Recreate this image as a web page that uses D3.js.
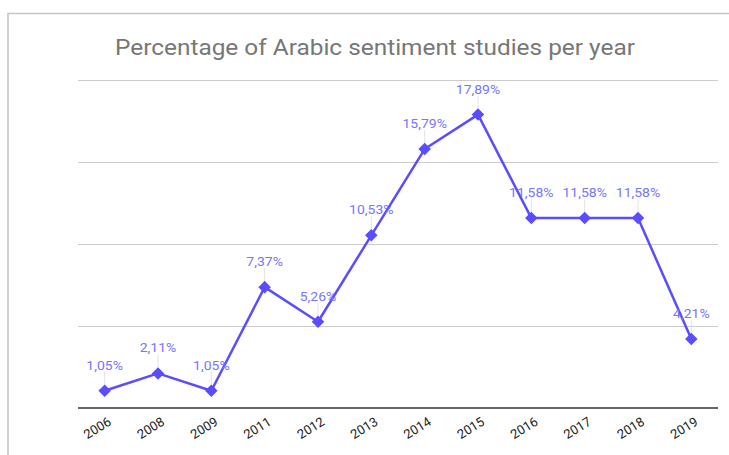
<!DOCTYPE html>
<html>
<head>
<meta charset="utf-8">
<script src="https://cdn.jsdelivr.net/npm/d3@7/dist/d3.min.js"></script>
<style>
  html, body { margin: 0; padding: 0; background: #fff; }
  svg { display: block; font-family: Roboto, "Noto Sans", Arial, sans-serif; }
</style>
</head>
<body>
<svg id="chart" width="729" height="455"></svg>
<script>
const years = ["2006","2008","2009","2011","2012","2013","2014","2015","2016","2017","2018","2019"];
const percentages = [1.05, 2.11, 1.05, 7.37, 5.26, 10.53, 15.79, 17.89, 11.58, 11.58, 11.58, 4.21];
const yTicks = [0, 5, 10, 15, 20];
const titleText = "Percentage of Arabic sentiment studies per year";

const svg = d3.select("#chart");
const plot = { left: 78, right: 718, top: 80, bottom: 408 };
const stretch = 1.12;

// frame
svg.append("path")
  .attr("d", `M8,455 L8,13.5 L729,13.5`)
  .attr("fill", "none")
  .attr("stroke", "#c4c4c4")
  .attr("stroke-width", 1.5);

// title
svg.append("text")
  .attr("transform", `translate(375,54.5) scale(1.135,1)`)
  .attr("text-anchor", "middle")
  .attr("font-size", 21.5)
  .attr("fill", "#777777")
  .text(titleText);

const x = d3.scalePoint().domain(years).range([plot.left, plot.right]).padding(0.5);
const y = d3.scaleLinear().domain([0, 20]).range([plot.bottom, plot.top]);

// gridlines
const yAxis = d3.axisLeft(y).tickValues(yTicks).tickSize(-(plot.right - plot.left)).tickFormat("");
const gy = svg.append("g").attr("transform", `translate(${plot.left},0)`).call(yAxis);
gy.select(".domain").remove();
gy.selectAll(".tick line").attr("stroke", "#cccccc").attr("stroke-width", 1);
gy.selectAll(".tick").filter(d => d === 0).remove();

// baseline axis
const xAxis = d3.axisBottom(x).tickSize(0).tickPadding(0);
const gx = svg.append("g").attr("transform", `translate(0,${plot.bottom})`).call(xAxis);
gx.select(".domain").attr("stroke", "#333").attr("stroke-width", 1.5)
  .attr("d", `M${plot.left},0H${plot.right}`);
gx.selectAll(".tick text")
  .attr("font-size", 13)
  .attr("font-family", "Roboto, sans-serif")
  .attr("fill", "#222")
  .attr("text-anchor", "end")
  .attr("dy", 0)
  .attr("transform", "translate(7,16) rotate(-32)");

// leader lines
const g = svg.append("g");
g.selectAll("line.leader").data(percentages).join("line")
  .attr("class", "leader")
  .attr("x1", (d, i) => x(years[i])).attr("x2", (d, i) => x(years[i]))
  .attr("y1", d => y(d) - 19).attr("y2", d => y(d) - 6)
  .attr("stroke", "#e3e3e3").attr("stroke-width", 1);

// line
const line = d3.line().x((d, i) => x(years[i])).y(d => y(d));
g.append("path").datum(percentages)
  .attr("d", line)
  .attr("fill", "none")
  .attr("stroke", "#5a4dff")
  .attr("stroke-width", 2.5)
  .attr("stroke-linejoin", "round");

// markers
const diamond = d3.symbol().type(d3.symbolDiamond2).size(100);
g.selectAll("path.marker").data(percentages).join("path")
  .attr("class", "marker")
  .attr("d", diamond)
  .attr("transform", (d, i) => `translate(${x(years[i])},${y(d)})`)
  .attr("fill", "#5a4dff");

// labels
const fmt = v => v.toFixed(2).replace(".", ",") + "%";
g.selectAll("text.lbl").data(percentages).join("text")
  .attr("class", "lbl")
  .attr("transform", (d, i) => `translate(${x(years[i])},${y(d) - 21}) scale(${stretch},1)`)
  .attr("text-anchor", "middle")
  .attr("font-size", 12.5)
  .attr("fill", "#7676ff")
  .text(d => fmt(d));
</script>
</body>
</html>
